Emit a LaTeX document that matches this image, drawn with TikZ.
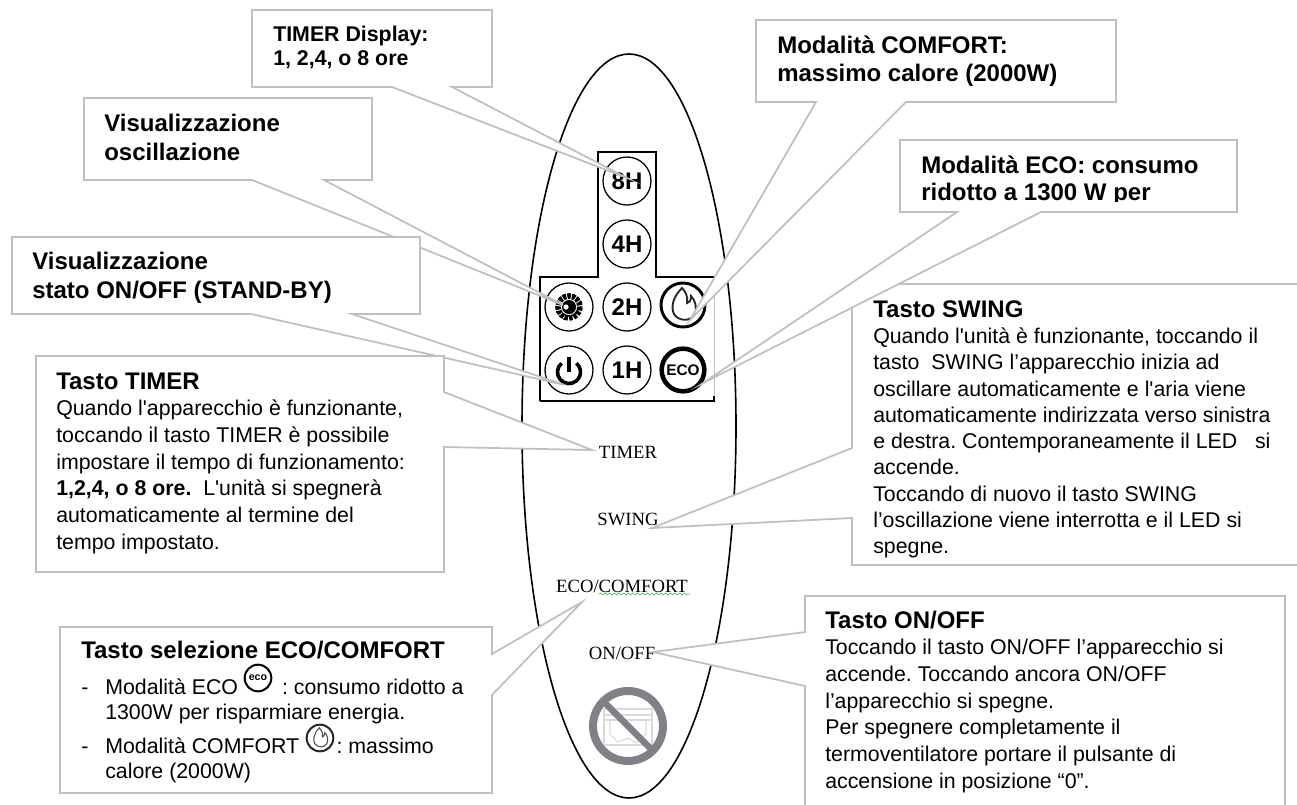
\documentclass[tikz,border=0pt]{standalone}
\usepackage{fontspec}
\usetikzlibrary{decorations.pathmorphing}
\newfontfamily\arialf{Liberation Sans}
\newfontfamily\timesf{Liberation Serif}
\newcommand{\hd}[1]{{\bfseries\fontsize{18}{20}\selectfont #1}}
% name, x, first baseline y, size, leading (pt), text
\newcommand{\tb}[7][]{\node[textblock,#1,font=\arialf\fontsize{#5}{#6}\selectfont\frenchspacing] (#2) at (#3,#4-20) {\rule{0pt}{15pt}#7};}
\newcommand{\flameshape}{(-1,-17) .. controls (-11,-7) and (-12,3) .. (-9,9) .. controls (-5,16) and (7,17) .. (11,10) .. controls (15,3) and (12,-5) .. (8,-9) .. controls (8,-4) and (6,-2) .. (4,-2) .. controls (5,-8) and (3,-13) .. (-1,-17) -- cycle}
\tikzset{
  textblock/.style={anchor=north west,inner sep=0pt,align=left,text=black},
  callout/.style={draw=calloutgray,fill=white,line width=1.3pt,miter limit=20},
  pbtn/.style={circle,draw=black,line width=0.95pt,minimum size=36pt,inner sep=0pt,font=\arialf\bfseries\fontsize{18}{18}\selectfont},
  panellabel/.style={inner sep=0pt,font=\timesf\fontsize{14}{14}\selectfont,text=black},
}
\definecolor{calloutgray}{HTML}{BFBFBF}
\definecolor{nogray}{HTML}{808086}
\definecolor{sketchgray}{HTML}{DADADA}
\definecolor{spellgreen}{HTML}{5FA85F}
\begin{document}
\begin{tikzpicture}[x=0.75pt,y=-0.75pt]
\useasboundingbox (0,0) rectangle (1297,804);
\clip (0,0) rectangle (1297,804);
% remote body
\draw[black,line width=1.2pt] (629,426) ellipse [x radius=107,y radius=372];
% display panel
\draw[black,line width=1pt] (540,401) -- (540,277) -- (598,277) -- (598,152) -- (656,152) -- (656,277) -- (714,277);
\draw[black,line width=1pt] (540,401) -- (714,401) -- (714,396);
\draw[calloutgray,line width=0.6pt] (714,277) -- (714,396);
% buttons
\node[pbtn] (b8) at (627,181) {8H};
\node[pbtn] (b4) at (627,244) {4H};
\node[pbtn] (b2) at (627,307) {2H};
\node[pbtn] (b1) at (627,370) {1H};
\node[pbtn] (bosc) at (569,307) {};
\node[pbtn] (bpow) at (569,370) {};
\node[pbtn,line width=2.2pt,minimum size=33pt] (bflame) at (683,305) {};
\node[pbtn,line width=3.4pt,minimum size=32pt,font=\arialf\bfseries\fontsize{11.5}{12}\selectfont] (beco) at (683,370) {ECO};
\draw[black,line width=4.2pt,dash pattern=on 2.6pt off 0.8pt] (bosc.center) circle [radius=11];
\fill[black] (bosc.center) circle [radius=7];
\fill[white] (bosc.center) ++(-3,0) circle [radius=2.6];
\draw[black,line width=2.7pt] (bpow.center) ++(-7.4,-6.8) arc [start angle=-130,end angle=-410,radius=11.5];
\draw[black,line width=2.7pt] (bpow.center) ++(0,-13) -- ++(0,15);
\begin{scope}[shift={(bflame.center)}]
\draw[black!85,line width=1.4pt] \flameshape;
\end{scope}
% panel labels
\node[panellabel] (ltimer) at (628,452) {TIMER};
\node[panellabel] (lswing) at (628,519) {SWING};
\node[panellabel] (lcomfort) at (622,586) {ECO/COMFORT};
\node[panellabel] (lonoff) at (622,653) {ON/OFF};
\draw[spellgreen,line width=0.5pt,decorate,decoration={snake,amplitude=0.7pt,segment length=3.5pt}] (599,594) -- (690,594);
% prohibition sign
\begin{scope}[shift={(628,726)}]
\draw[sketchgray,line width=0.8pt] (-24,-17) rectangle (24,19);
\draw[sketchgray,line width=0.8pt] (-24,-11) -- (24,-11) (-24,-6) -- (24,-6);
\draw[sketchgray,line width=0.8pt] (-18,-6) -- (-18,8) -- (-10,16) -- (0,12) -- (8,17) -- (18,8) -- (18,-6);
\draw[nogray,line width=6pt] (0,0) circle [radius=35];
\draw[nogray,line width=5pt] (-25,-25) -- (25,25);
\end{scope}
% tips of the callouts
\coordinate (t8) at (627,178);
\coordinate (tosc) at (563,305);
\coordinate (tpow) at (565,385);
\coordinate (ttimer) at (592,450);
\coordinate (tcomf) at (690,320);
\coordinate (teco) at (703,383);
\coordinate (tswing) at (652,528);
\coordinate (tsel) at (582,602);
\coordinate (tonoff) at (653,652);
% callout outlines
\draw[callout] (252,10) -- (492,10) -- (492,87) -- (452,87) -- (t8) -- (392,87) -- (252,87) -- cycle;
\draw[callout] (756,20) -- (1116,20) -- (1116,102) -- (906,102) -- (tcomf) -- (816,102) -- (756,102) -- cycle;
\draw[callout] (84,98) -- (372,98) -- (372,180) -- (324,180) -- (tosc) -- (252,180) -- (84,180) -- cycle;
\draw[callout] (12,237) -- (420,237) -- (420,314) -- (352,314) -- (tpow) -- (251,314) -- (12,314) -- cycle;
\draw[callout] (36,356) -- (444,356) -- (444,392) -- (ttimer) -- (444,447) -- (444,572) -- (36,572) -- cycle;
\draw[callout] (852,284) -- (1310,284) -- (1310,565) -- (852,565) -- (852,518) -- (tswing) -- (852,448) -- cycle;
\draw[callout] (900,140) -- (1237,140) -- (1237,212) -- (1041,212) -- (teco) -- (957,212) -- (900,212) -- cycle;
\draw[callout] (60,627) -- (492,627) -- (492,654) -- (tsel) -- (492,695) -- (492,793) -- (60,793) -- cycle;
\draw[callout] (805,596) -- (1285,596) -- (1285,815) -- (805,815) -- (805,686) -- (tonoff) -- (805,632) -- cycle;
% texts
\tb{cdisp}{273}{41}{16}{18}{\bfseries TIMER Display:\\\bfseries 1, 2,4, o 8 ore}
\tb{ccomf}{777}{53}{18}{21}{\bfseries Modalità COMFORT:\\\bfseries massimo calore (2000W)}
\tb{cosc}{104}{131}{18}{21.8}{\bfseries Visualizzazione\\\bfseries oscillazione}
\tb{cpow}{32}{269}{18}{21.8}{\bfseries Visualizzazione\\\bfseries stato ON/OFF (STAND-BY)}
\begin{scope}
\clip (900,140) rectangle (1237,201.5);
\tb{ceco}{921}{173}{18}{20.3}{\bfseries Modalità ECO: consumo\\\bfseries ridotto a 1300 W per}
\end{scope}
\tb{ctimer}{56}{389}{16}{20}{\hd{Tasto TIMER}\\Quando l'apparecchio è funzionante,\\toccando il tasto TIMER è possibile\\impostare il tempo di funzionamento:\\{\bfseries 1,2,4, o 8 ore.}\ \ L'unità si spegnerà\\automaticamente al termine del\\tempo impostato.}
\tb{cswing}{873}{317}{16}{19.7}{\hd{Tasto SWING}\\Quando l'unità è funzionante, toccando il\\tasto\ \ SWING l’apparecchio inizia ad\\oscillare automaticamente e l'aria viene\\automaticamente indirizzata verso sinistra\\e destra. Contemporaneamente il LED\ \ \ si\\accende.\\Toccando di nuovo il tasto SWING\\l’oscillazione viene interrotta e il LED si\\spegne.}
\tb{conoff}{825}{628}{16}{20}{\hd{Tasto ON/OFF}\\Toccando il tasto ON/OFF l’apparecchio si\\accende. Toccando ancora ON/OFF\\l’apparecchio si spegne.\\Per spegnere completamente il\\termoventilatore portare il pulsante di\\accensione in posizione “0”.}
\tb{csel}{81}{658}{16}{20}{\hd{Tasto selezione ECO/COMFORT}}
\tb{dash1}{81}{694}{16}{18.8}{-}
\tb{item1}{105}{694}{16}{18.8}{Modalità ECO\hspace{33pt}: consumo ridotto a\\1300W per risparmiare energia.}
\tb{dash2}{81}{753}{16}{18.8}{-}
\tb{item2}{105}{753}{16}{18.8}{Modalità COMFORT\hspace{28pt}: massimo\\calore (2000W)}
% inline icons
\node[circle,draw=black,line width=1.5pt,minimum size=20pt,inner sep=0pt,font=\arialf\bfseries\fontsize{8}{8}\selectfont] (ieco) at (258,678) {eco};
\node[circle,draw=black!85,line width=1.5pt,minimum size=20pt,inner sep=0pt] (iflame) at (320,738) {};
\begin{scope}[shift={(iflame.center)},scale=0.6]
\draw[black!70,line width=0.8pt] \flameshape;
\end{scope}
\end{tikzpicture}
\end{document}
